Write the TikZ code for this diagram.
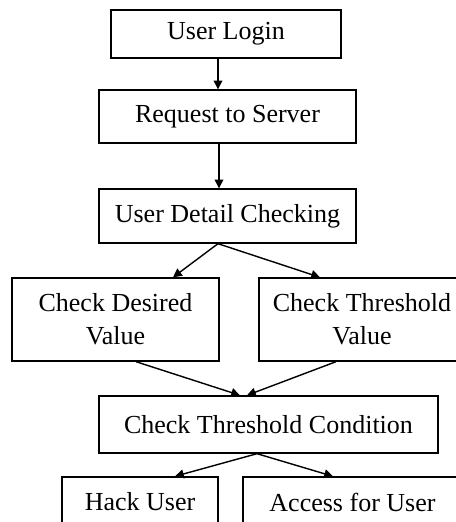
\documentclass[tikz,border=0pt]{standalone}
\usepackage{fontspec}
\setmainfont{Liberation Serif}
\usetikzlibrary{calc, arrows.meta}

\tikzset{
    box/.style={draw, line width=0.8pt, align=center, inner sep=0pt,
        font=\fontsize{14.8}{18.6}\selectfont},
    flow/.style={line width=0.8pt, -{Triangle[length=5pt, width=5pt]}}
}

\begin{document}
\begin{tikzpicture}[x=0.02cm, y=0.02cm]
            \useasboundingbox (0,0) rectangle (456,522);
            \node[box, minimum width=4.6cm, minimum height=0.96cm] (L) at (226,488) {User Login};
            \node[box, minimum width=5.14cm, minimum height=1.06cm] (R) at (227.5,405.5) {Request to Server};
            \node[box, minimum width=5.14cm, minimum height=1.08cm] (D) at (227.5,306) {User Detail Checking};
            \node[box, minimum width=4.14cm, minimum height=1.66cm] (V_d) at (115.5,202.5) {Check Desired\\Value};
            \node[box, minimum width=4.12cm, minimum height=1.66cm] (V_t) at (362,202.5) {Check Threshold\\Value};
            \node[box, minimum width=6.78cm, minimum height=1.14cm] (C) at (268.5,97.5) {Check Threshold Condition};
            \node[box, minimum width=3.12cm, minimum height=1cm] (H) at (140,20) {Hack User};
            \node[box, minimum width=4.38cm, minimum height=1cm] (A) at (352.5,20) {Access for User};
            %\draw[flow] (L) -- (R);
            \draw[flow] ($(L.south)+(-8,0)$) -- ($(R.north)+(-9.5,0)$);
            \draw[flow] ($(R.south)+(-8.5,0)$) -- ($(D.north)+(-8.5,0)$);
            \draw[flow] ($(D.south)+(-9.5,0)$) -- ($(V_d.north)+(57.5,0)$);
            \draw[flow] ($(D.south)+(-9.5,0)$) -- ($(V_t.north)+(-42,0)$);
            \draw[flow] ($(V_d.south)+(20.5,0)$) -- ($(C.north)+(-28.5,0)$);
            \draw[flow] ($(V_t.south)+(-26,0)$) -- ($(C.north)+(-21.5,0)$);
            \draw[flow] ($(C.south)+(-11.5,0)$) -- ($(H.north)+(35,0)$);
            \draw[flow] ($(C.south)+(-11.5,0)$) -- ($(A.north)+(-19.5,0)$);
        \end{tikzpicture}
\end{document}
